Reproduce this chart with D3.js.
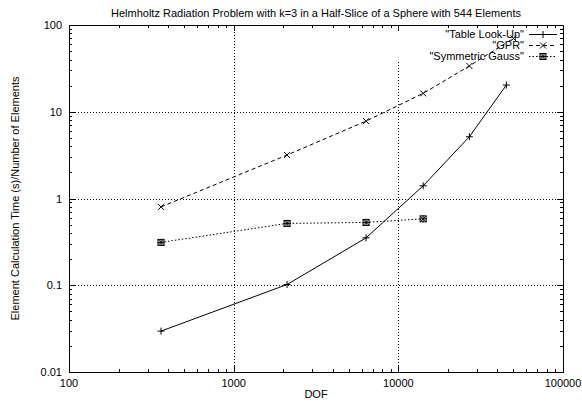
<!DOCTYPE html>
<html>
<head>
<meta charset="utf-8">
<script src="https://cdn.jsdelivr.net/npm/d3@7"></script>
<style>
  body { margin: 0; background: #fff; }
  text { font-family: "Liberation Sans", Arial, sans-serif; fill: #000; }
</style>
</head>
<body>
<div id="chart"></div>
<script>
var dofTable = [362, 2110, 6370, 14150, 27000, 45300];
var tableLookUp = [0.0296, 0.102, 0.352, 1.40, 5.15, 20.3];
var dofGpr = [362, 2110, 6370, 14150, 27000, 50000];
var gpr = [0.80, 3.17, 7.8, 16.3, 33.7, 70.2];
var dofGauss = [362, 2110, 6370, 14150];
var symGauss = [0.312, 0.516, 0.530, 0.583];
var seriesNames = ['"Table Look-Up"', '"GPR"', '"Symmetric Gauss"'];
var xTicks = [100, 1000, 10000, 100000];
var yTicks = [0.01, 0.1, 1, 10, 100];

var width = 582, height = 403;
var margin = {top: 25, right: 19, bottom: 31, left: 69};
var fontSize = "11px";

var svg = d3.select("#chart")
  .append("svg")
  .attr("width", width)
  .attr("height", height);

var x = d3.scaleLog().domain([100, 100000]).range([margin.left, width - margin.right]);
var y = d3.scaleLog().domain([0.01, 100]).range([height - margin.bottom, margin.top]);

// minor tick values, 2..9 in each decade
function minors(lo, hi) {
  var out = [];
  for (var d = lo; d < hi; d *= 10) {
    for (var k = 2; k < 10; k++) out.push(d * k);
  }
  return out;
}
var xMinor = minors(100, 100000);
var yMinor = minors(0.01, 100);

var x0 = x.range()[0], x1 = x.range()[1];
var y0 = y.range()[0], y1 = y.range()[1];

// legend geometry (the grid is not drawn behind it)
var keyTextEnd = x1 - 39;
var keyRowY = [34, 45, 56];
var keyBottom = 62;

// grid
var grid = svg.append("g")
  .attr("stroke", "#000")
  .attr("stroke-width", 1)
  .attr("stroke-dasharray", "1,2");

xTicks.slice(1, -1).forEach(function(t) {
  var gx = Math.round(x(t)) + 0.5;
  var top = gx > keyTextEnd - 130 ? keyBottom : y1;
  grid.append("line")
    .attr("x1", gx).attr("x2", gx)
    .attr("y1", y0).attr("y2", top);
});
yTicks.slice(1, -1).forEach(function(t) {
  var gy = Math.round(y(t)) + 0.5;
  grid.append("line")
    .attr("x1", x0).attr("x2", x1)
    .attr("y1", gy).attr("y2", gy);
});

// ticks on all four sides
var ticks = svg.append("g").attr("stroke", "#000").attr("stroke-width", 1);
function tickX(v, len) {
  var tx = Math.round(x(v)) + 0.5;
  ticks.append("line").attr("x1", tx).attr("x2", tx).attr("y1", y0).attr("y2", y0 - len);
  ticks.append("line").attr("x1", tx).attr("x2", tx).attr("y1", y1).attr("y2", y1 + len);
}
function tickY(v, len) {
  var ty = Math.round(y(v)) + 0.5;
  ticks.append("line").attr("x1", x0).attr("x2", x0 + len).attr("y1", ty).attr("y2", ty);
  ticks.append("line").attr("x1", x1).attr("x2", x1 - len).attr("y1", ty).attr("y2", ty);
}
xTicks.forEach(function(t) { tickX(t, 6); });
xMinor.forEach(function(t) { tickX(t, 3); });
yTicks.forEach(function(t) { tickY(t, 6); });
yMinor.forEach(function(t) { tickY(t, 3); });

// frame
svg.append("rect")
  .attr("x", Math.round(x0) + 0.5)
  .attr("y", Math.round(y1) + 0.5)
  .attr("width", Math.round(x1) - Math.round(x0))
  .attr("height", Math.round(y0) - Math.round(y1))
  .attr("fill", "none")
  .attr("stroke", "#000")
  .attr("stroke-width", 1);

// tick labels
svg.append("g").selectAll("text").data(xTicks).enter()
  .append("text")
  .attr("x", function(d) { return x(d); })
  .attr("y", y0 + 15)
  .attr("text-anchor", "middle")
  .style("font-size", fontSize)
  .text(function(d) { return d; });

svg.append("g").selectAll("text").data(yTicks).enter()
  .append("text")
  .attr("x", x0 - 7)
  .attr("y", function(d) { return y(d) + 4; })
  .attr("text-anchor", "end")
  .style("font-size", fontSize)
  .text(function(d) { return d; });

// titles
svg.append("text")
  .attr("x", (x0 + x1) / 2)
  .attr("y", 17)
  .attr("text-anchor", "middle")
  .style("font-size", fontSize)
  .text("Helmholtz Radiation Problem with k=3 in a Half-Slice of a Sphere with 544 Elements");

svg.append("text")
  .attr("x", (x0 + x1) / 2)
  .attr("y", 398)
  .attr("text-anchor", "middle")
  .style("font-size", fontSize)
  .text("DOF");

svg.append("text")
  .attr("transform", "translate(19," + ((y0 + y1) / 2) + ")rotate(-90)")
  .attr("text-anchor", "middle")
  .style("font-size", fontSize)
  .text("Element Calculation Time (s)/Number of Elements");

// markers
function plus(g, cx, cy) {
  g.append("path").attr("d", "M" + (cx - 3.5) + "," + cy + "H" + (cx + 3.5) + "M" + cx + "," + (cy - 3.5) + "V" + (cy + 3.5));
}
function cross(g, cx, cy) {
  g.append("path").attr("d", "M" + (cx - 3) + "," + (cy - 3) + "L" + (cx + 3) + "," + (cy + 3) + "M" + (cx - 3) + "," + (cy + 3) + "L" + (cx + 3) + "," + (cy - 3));
}
function star(g, cx, cy) {
  plus(g, cx, cy);
  cross(g, cx, cy);
  g.append("rect").attr("x", cx - 3).attr("y", cy - 3).attr("width", 6).attr("height", 6).attr("fill", "none");
}

var series = [
  {xs: dofTable, vals: tableLookUp, dash: null, mark: plus},
  {xs: dofGpr, vals: gpr, dash: "4,3", mark: cross},
  {xs: dofGauss, vals: symGauss, dash: "1.5,2", mark: star}
];

var line = d3.line()
  .x(function(d) { return x(d[0]); })
  .y(function(d) { return y(d[1]); });

series.forEach(function(s, i) {
  var pts = s.vals.map(function(v, j) { return [s.xs[j], v]; });
  var g = svg.append("g")
    .attr("stroke", "#000")
    .attr("stroke-width", 1)
    .attr("fill", "none");
  g.append("path")
    .attr("d", line(pts))
    .attr("stroke-dasharray", s.dash);
  var mg = g.append("g");
  pts.forEach(function(p) { s.mark(mg, x(p[0]), y(p[1])); });

  // legend entry
  svg.append("text")
    .attr("x", keyTextEnd)
    .attr("y", keyRowY[i] + 4)
    .attr("text-anchor", "end")
    .style("font-size", fontSize)
    .text(seriesNames[i]);
  var lg = svg.append("g").attr("stroke", "#000").attr("stroke-width", 1).attr("fill", "none");
  lg.append("line")
    .attr("x1", keyTextEnd + 5).attr("x2", keyTextEnd + 33)
    .attr("y1", keyRowY[i] + 0.5).attr("y2", keyRowY[i] + 0.5)
    .attr("stroke-dasharray", s.dash);
  s.mark(lg, keyTextEnd + 19, keyRowY[i] + 0.5);
});
</script>
</body>
</html>
